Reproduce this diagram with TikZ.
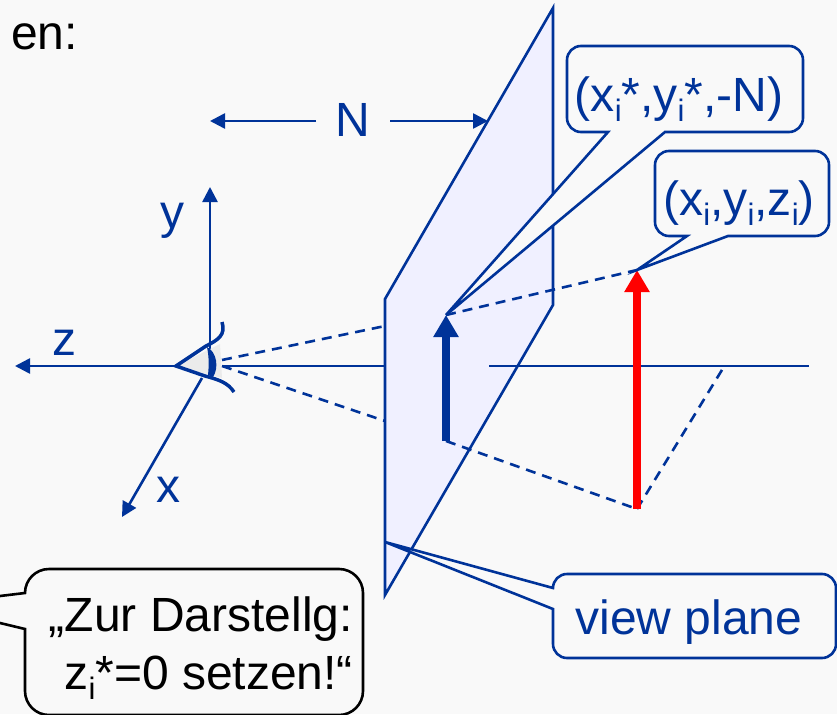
\documentclass[tikz,border=0pt]{standalone}
\usepackage{fontspec}
\setmainfont{Liberation Sans}
\usetikzlibrary{arrows.meta,positioning,calc}
\definecolor{dblue}{RGB}{0,51,153}
\definecolor{planefill}{RGB}{240,240,255}
\definecolor{bgcol}{RGB}{249,249,249}
\newcommand{\subi}{\raisebox{-10pt}{\fontsize{31}{31}\selectfont i}}
\tikzset{
  lbl/.style={font=\fontsize{48}{58}\selectfont,text=dblue,inner sep=0pt},
  axis/.style={dblue,line width=2.6pt,-{Triangle[length=15pt,width=15pt]}},
  bubble/.style={draw=dblue,line width=2.6pt,fill=bgcol},
  dashline/.style={dblue,line width=2.6pt,dash pattern=on 10pt off 7pt},
  vecarrow/.style={line width=8pt,-{Triangle[length=22pt,width=24pt]}}
}
\begin{document}
\begin{tikzpicture}[x=1pt,y=-1pt]
  \useasboundingbox[fill=bgcol] (0,0) rectangle (837,714);
  \node[lbl,text=black,anchor=base east] (title) at (78,50) {en:};

  % view plane
  \draw[fill=planefill,draw=dblue,line width=2.6pt] (385,299) -- (553,8) -- (553,305) -- (385,595) -- cycle;

  % axes
  \coordinate (eye) at (176,366);
  \coordinate (yend) at (210,187);
  \coordinate (zend) at (15,366);
  \coordinate (xend) at (122,517);
  \draw[axis] (210,366) -- (yend);
  \draw[axis] (eye) -- (zend);
  \draw[axis] (202,378) -- (xend);
  \draw[dblue,line width=2.6pt] (222,366) -- (385,366);
  \draw[dblue,line width=2.6pt] (489,366) -- (809,366);

  % eye
  \fill[black!8] (176,366) -- (220,344) -- (222,378) -- cycle;
  \draw[dblue,line width=3.5pt] (222,322) .. controls (226,335) and (218,340) .. (206,346) -- (176,366) -- (205,376) .. controls (220,380) and (228,383) .. (234,392);
  \fill[dblue] (207,347) .. controls (217,352) and (219,368) .. (213,377) -- (208,375) .. controls (209,366) and (209,356) .. (207,347) -- cycle;

  % sight lines
  \coordinate (top) at (446,315);
  \coordinate (bot) at (446,441);
  \coordinate (rtop) at (637,270);
  \coordinate (rbot) at (637,509);
  \coordinate (foot) at (725,365);
  \draw[dashline] (222,360) -- (385,326);
  \draw[dashline] (222,366) -- (385,421);
  \draw[dashline] (top) -- (rtop);
  \draw[dashline] (bot) -- (rbot);
  \draw[dashline] (rbot) -- (foot);

  % image and object
  \draw[vecarrow,dblue] (bot) -- (top);
  \draw[vecarrow,red] (rbot) -- (rtop);

  % distance
  \node[lbl] (n) at (353,120) {N};
  \coordinate (nl) at (210,121);
  \coordinate (nr) at (488,121);
  \draw[axis] (316,121) -- (nl);
  \draw[axis] (390,121) -- (nr);

  \node[lbl] (ylabel) at (172,221) {y};
  \node[lbl] (zlabel) at (64,343) {z};
  \node[lbl] (xlabel) at (168,490) {x};

  % bubbles
  \draw[bubble] (608,132) [rounded corners=14pt] -- (567,132) -- (567,46) -- (803,46) -- (803,132) [sharp corners] -- (665,132) -- (top) -- cycle;
  \node[lbl] (proj) at (679,99) {(x\subi*,y\subi*,-N)};
  \draw[bubble] (687,236) [rounded corners=14pt] -- (655,236) -- (655,151) -- (829,151) -- (829,236) [sharp corners] -- (728,236) -- (rtop) -- cycle;
  \node[lbl] (point) at (739,203) {(x\subi,y\subi,z\subi)};
  \coordinate (vtip) at (385,542);
  \draw[bubble] (553,588) [rounded corners=14pt] -- (553,574) -- (836,574) -- (836,658) -- (553,658) [sharp corners] -- (553,609) -- (vtip) -- cycle;
  \node[lbl] (view) at (689,622) {view plane};
  \draw[bubble,draw=black] (25,593) [rounded corners=24pt] -- (25,569) -- (363,569) -- (363,715) -- (25,715) [sharp corners] -- (25,629) -- (-10,620.6) -- (-10,597.2) -- cycle;
  \node[lbl,text=black,align=right] (note) at (201,648) {„Zur Darstellg:\\z\subi*=0 setzen!“};
\end{tikzpicture}
\end{document}
